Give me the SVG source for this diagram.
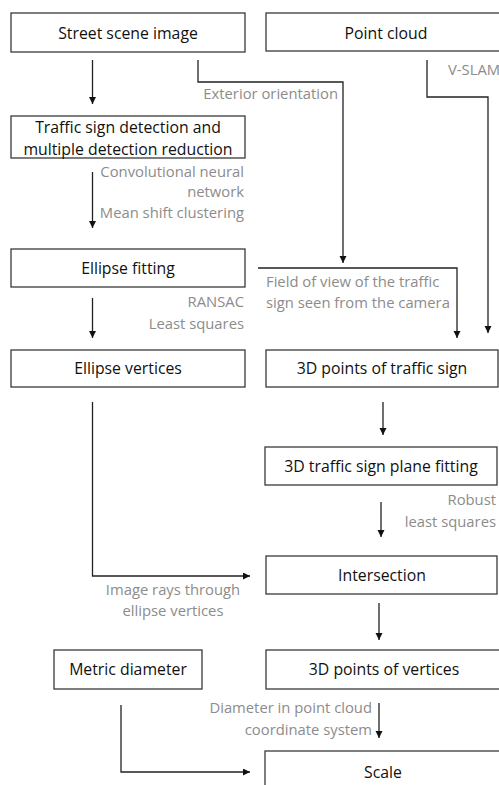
<svg xmlns="http://www.w3.org/2000/svg" width="499" height="785" viewBox="0 0 499 785">
<defs>
<style>
.box{fill:#fff;stroke:#3a3a3a;stroke-width:1.3}
.t{font-family:"Open Sans","Liberation Sans",sans-serif;font-size:15.8px;fill:#111;text-anchor:middle}
.g{font-family:"Open Sans","Liberation Sans",sans-serif;font-size:14.8px;fill:#8c8c8c}
.e{text-anchor:end}
.m{text-anchor:middle}
.c{fill:none;stroke:#222;stroke-width:1.3;marker-end:url(#ah)}
</style>
<marker id="ah" markerUnits="userSpaceOnUse" markerWidth="8" markerHeight="8" refX="7" refY="3.5" orient="auto">
<path d="M0,0 L7,3.5 L0,7 z" fill="#111"/>
</marker>
</defs>
<rect width="499" height="785" fill="#fff"/>
<g id="connectors">
<path class="c" d="M92.5,60 V104"/>
<path class="c" d="M198,60 V82 H343 V263"/>
<path class="c" d="M427,60 V97 H488 V333"/>
<path class="c" d="M92.5,172 V228"/>
<path class="c" d="M258,268 H457 V338"/>
<path class="c" d="M92.5,298 V338"/>
<path class="c" d="M92.5,402 V576 H250"/>
<path class="c" d="M383,402 V435"/>
<path class="c" d="M381,502 V537"/>
<path class="c" d="M379,603 V640"/>
<path class="c" d="M379,703 V738"/>
<path class="c" d="M121,705 V772 H250"/>
</g>
<g id="labels">
<text class="g" x="448" y="75">V-SLAM</text>
<text class="g e" x="338" y="99">Exterior orientation</text>
<text class="g e" x="244" y="177">Convolutional neural</text>
<text class="g e" x="244" y="197">network</text>
<text class="g e" x="244" y="218">Mean shift clustering</text>
<text class="g" x="266" y="287">Field of view of the traffic</text>
<text class="g" x="266" y="308">sign seen from the camera</text>
<text class="g e" x="244" y="307">RANSAC</text>
<text class="g e" x="244" y="329">Least squares</text>
<text class="g e" x="496" y="505">Robust</text>
<text class="g e" x="496" y="527">least squares</text>
<text class="g m" x="173" y="595">Image rays through</text>
<text class="g m" x="173" y="616">ellipse vertices</text>
<text class="g e" x="372" y="713">Diameter in point cloud</text>
<text class="g e" x="372" y="735">coordinate system</text>
</g>
<g id="street"><rect class="box" x="11" y="13" width="234" height="39"/><text class="t" x="128" y="38.5">Street scene image</text></g>
<g id="pointcloud"><rect class="box" x="266" y="13" width="250" height="38"/><text class="t" x="386" y="38.5">Point cloud</text></g>
<g id="detection"><rect class="box" x="11" y="116" width="234" height="42"/><text class="t" x="128" y="132.5">Traffic sign detection and</text><text class="t" x="128" y="154.5">multiple detection reduction</text></g>
<g id="ellipsefit"><rect class="box" x="11" y="249" width="234" height="38"/><text class="t" x="128" y="273.5">Ellipse fitting</text></g>
<g id="ellipsevert"><rect class="box" x="11" y="350" width="234" height="37"/><text class="t" x="128" y="374">Ellipse vertices</text></g>
<g id="pts3d"><rect class="box" x="266" y="350" width="232" height="37"/><text class="t" x="382" y="374">3D points of traffic sign</text></g>
<g id="plane"><rect class="box" x="265" y="447" width="232" height="38"/><text class="t" x="381" y="471.5">3D traffic sign plane fitting</text></g>
<g id="intersection"><rect class="box" x="266" y="556" width="231" height="38"/><text class="t" x="382" y="580.5">Intersection</text></g>
<g id="metric"><rect class="box" x="54" y="650" width="148" height="39"/><text class="t" x="128" y="675">Metric diameter</text></g>
<g id="vertices3d"><rect class="box" x="266" y="650" width="250" height="39"/><text class="t" x="384" y="675">3D points of vertices</text></g>
<g id="scale"><rect class="box" x="265" y="751" width="250" height="60"/><text class="t" x="383" y="777.5">Scale</text></g>
</svg>
